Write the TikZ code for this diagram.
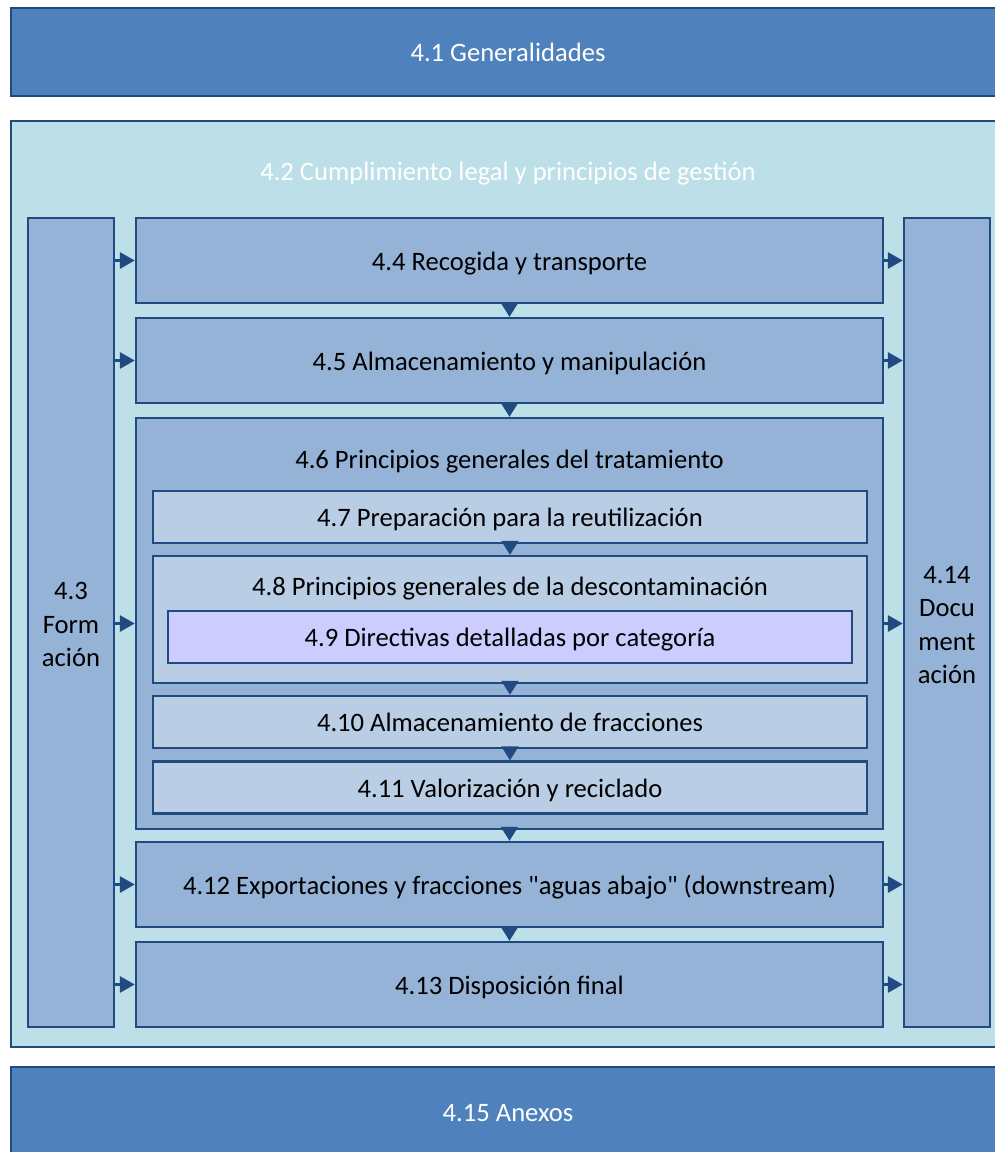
\documentclass[tikz,border=0pt]{standalone}
\usepackage{fontspec}
\setmainfont{Carlito}[Ligatures=TeXOff]
\usetikzlibrary{arrows.meta}
\definecolor{bdr}{RGB}{33,75,128}
\definecolor{topfill}{RGB}{79,129,189}
\definecolor{contfill}{RGB}{189,223,232}
\definecolor{midfill}{RGB}{149,179,215}
\definecolor{lightfill}{RGB}{185,205,229}
\definecolor{violetfill}{RGB}{204,204,255}
\tikzset{
  basebox/.style={draw=bdr, line width=2.4pt, rectangle, inner sep=0pt, align=center,
    font=\fontsize{26.6}{33}\selectfont},
  oneline/.style={text height=22pt, text depth=3pt},
  bigbox/.style={basebox, oneline, fill=topfill, text=white},
  contbox/.style={basebox, fill=contfill},
  midbox/.style={basebox, fill=midfill},
  lightbox/.style={basebox, oneline, fill=lightfill},
  violetbox/.style={basebox, oneline, fill=violetfill},
  txt/.style={inner sep=0pt, anchor=base, font=\fontsize{26.6}{33}\selectfont},
  coltxt/.style={inner sep=0pt, align=center, font=\fontsize{26.6}{33.5}\selectfont},
  harr/.style={draw=bdr, line width=3pt, -{Triangle[length=15pt,width=16pt]}},
  varr/.style={draw=bdr, line width=2pt, -{Triangle[length=14pt,width=17pt]}},
}
\begin{document}
\begin{tikzpicture}[x=1pt,y=-1pt]
\useasboundingbox (0,0) rectangle (995,1152);
\clip (0,0) rectangle (995,1152);
% top and bottom
\node[bigbox, minimum width=994pt, minimum height=88pt] (g41) at (508,52) {4.1 Generalidades};
\node[contbox, minimum width=994pt, minimum height=926pt] (c42) at (508,584) {};
\node[txt, text=white] (t42) at (508,180.5) {4.2 Cumplimiento legal y principios de gestión};
\node[bigbox, minimum width=994pt, minimum height=90pt] (a415) at (508,1112) {4.15 Anexos};
% side columns
\node[midbox, minimum width=86pt, minimum height=809pt] (f43) at (71,622.5) {};
\node[coltxt] (f43t) at ([yshift=-2pt]f43.center) {4.3\\Form\\ación};
\node[midbox, minimum width=86pt, minimum height=809pt] (d414) at (947,622.5) {};
\node[coltxt] (d414t) at ([yshift=-2.5pt]d414.center) {4.14\\Docu\\ment\\ación};
% main column
\node[midbox, oneline, minimum width=747pt, minimum height=85pt] (b44) at (509.5,260.5) {4.4 Recogida y transporte};
\node[midbox, oneline, minimum width=747pt, minimum height=85pt] (b45) at (509.5,360.5) {4.5 Almacenamiento y manipulación};
\node[midbox, minimum width=747pt, minimum height=411pt] (b46) at (509.5,623.5) {};
\node[txt] (t46) at (509.5,468.5) {4.6 Principios generales del tratamiento};
\node[lightbox, minimum width=714pt, minimum height=52pt] (b47) at (510,517) {4.7 Preparación para la reutilización};
\node[basebox, fill=lightfill, minimum width=714pt, minimum height=127pt] (b48) at (510,619.5) {};
\node[txt] (t48) at (510,595.5) {4.8 Principios generales de la descontaminación};
\node[violetbox, minimum width=684pt, minimum height=52pt] (b49) at (510,637) {4.9 Directivas detalladas por categoría};
\node[lightbox, minimum width=714pt, minimum height=52pt] (b410) at (510,722) {4.10 Almacenamiento de fracciones};
\node[lightbox, minimum width=714pt, minimum height=52pt] (b411) at (510,787.5) {4.11 Valorización y reciclado};
\node[midbox, oneline, minimum width=747pt, minimum height=85pt] (b412) at (509.5,884.5) {4.12 Exportaciones y fracciones "aguas abajo" (downstream)};
\node[midbox, oneline, minimum width=747pt, minimum height=85pt] (b413) at (509.5,984.5) {4.13 Disposición final};
% horizontal arrows
\foreach \b in {b44,b45,b46,b412,b413}{
  \draw[harr] (f43.east |- \b.west) -- (\b.west);
  \draw[harr] (\b.east) -- (d414.west |- \b.east);
}
% vertical arrows
\draw[varr] (b44.south) -- (b45.north);
\draw[varr] (b45.south) -- (b46.north);
\draw[varr] (b47.south) -- (b48.north);
\draw[varr] (b48.south) -- (b410.north);
\draw[varr] (b410.south) -- (b411.north);
\draw[varr] (b46.south) -- (b412.north);
\draw[varr] (b412.south) -- (b413.north);
\end{tikzpicture}
\end{document}
